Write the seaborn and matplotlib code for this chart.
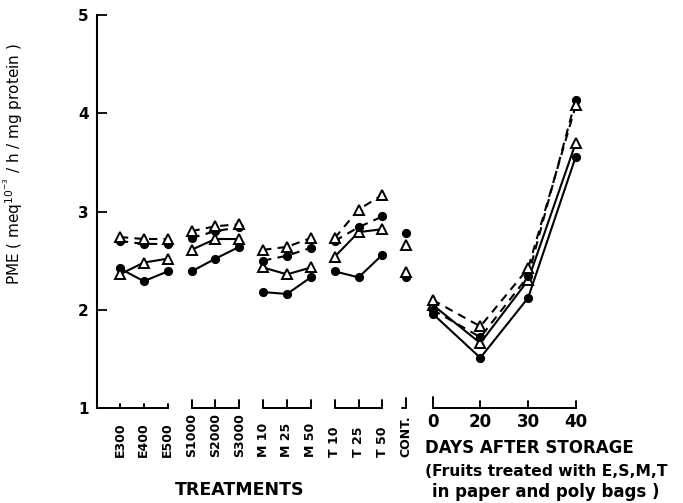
import numpy as np
import pandas as pd
import matplotlib
matplotlib.use("Agg")
import matplotlib.pyplot as plt
import seaborn as sns

# Treatment categories and their groups
treatments = ["E300", "E400", "E500", "S1000", "S2000", "S3000",
              "M 10", "M 25", "M 50", "T 10", "T 25", "T 50", "CONT."]
groups = ["E", "E", "E", "S", "S", "S", "M", "M", "M", "T", "T", "T", "C"]
days = [0, 20, 30, 40]

# PME activity per treatment (4 series)
solid_circle_t = [2.42, 2.29, 2.39, 2.39, 2.52, 2.64, 2.18, 2.16, 2.33, 2.39, 2.33, 2.56, 2.33]
solid_tri_t    = [2.36, 2.48, 2.52, 2.61, 2.72, 2.72, 2.43, 2.36, 2.43, 2.54, 2.79, 2.82, 2.38]
dash_circle_t  = [2.70, 2.67, 2.67, 2.73, 2.80, 2.84, 2.50, 2.55, 2.63, 2.70, 2.84, 2.95, 2.78]
dash_tri_t     = [2.74, 2.72, 2.72, 2.80, 2.85, 2.87, 2.61, 2.64, 2.73, 2.73, 3.02, 3.17, 2.66]

# PME activity during storage
solid_circle_d = [1.96, 1.51, 2.12, 3.56]
solid_tri_d    = [2.05, 1.66, 2.30, 3.70]
dash_circle_d  = [2.00, 1.72, 2.34, 4.14]
dash_tri_d     = [2.10, 1.83, 2.42, 4.08]

yticks = [1, 2, 3, 4, 5]

sns.set_style("ticks")
plt.rcParams["font.family"] = ["DejaVu Sans"]
for key in ["text.color", "axes.labelcolor", "xtick.color", "ytick.color", "axes.edgecolor"]:
    plt.rcParams[key] = "black"

fig = plt.figure(figsize=(6.83, 5.03), dpi=100)
ax = fig.add_axes([0.142, 0.189, 0.736, 0.781])

treat_x = np.arange(len(treatments), dtype=float)
day_x = 13.1 + 2.0 * np.arange(len(days))

series = [
    ("solid_circle", solid_circle_t, solid_circle_d, "-", "o", "black", 5.2),
    ("solid_tri", solid_tri_t, solid_tri_d, "-", "^", "white", 7.0),
    ("dash_circle", dash_circle_t, dash_circle_d, (0, (4, 3)), "o", "black", 5.2),
    ("dash_tri", dash_tri_t, dash_tri_d, (0, (4, 3)), "^", "white", 7.0),
]

for name, tvals, dvals, ls, mk, fc, ms in series:
    df = pd.DataFrame({
        "x": np.concatenate([treat_x, day_x]),
        "pme": tvals + dvals,
        "seg": groups + ["D"] * len(days),
    })
    sns.lineplot(data=df, x="x", y="pme", units="seg", estimator=None,
                 color="black", linestyle=ls, linewidth=1.5,
                 marker=mk, markersize=ms, markerfacecolor=fc,
                 markeredgecolor="black", markeredgewidth=1.4,
                 ax=ax, legend=False, sort=False)

ax.set_xlim(-0.96, 20.1)
ax.set_ylim(1, 5)
ax.set_yticks(yticks)
ax.set_yticklabels([str(v) for v in yticks], fontsize=11, fontweight="bold")
ax.tick_params(axis="y", direction="in", length=7, width=1.3, pad=6)
for s in ["top", "right", "bottom"]:
    ax.spines[s].set_visible(False)
ax.spines["left"].set_linewidth(1.5)

# Bracket-style baseline under each group
kw = dict(color="black", linewidth=1.4, clip_on=False)
e_idx = [i for i, g in enumerate(groups) if g == "E"]
ax.plot([-0.96, treat_x[e_idx[-1]]], [1, 1], **kw)
for i in e_idx:
    ax.plot([treat_x[i], treat_x[i]], [1, 1.04], **kw)
for g in ["S", "M", "T"]:
    idx = [i for i, gg in enumerate(groups) if gg == g]
    ax.plot([treat_x[idx[0]], treat_x[idx[-1]]], [1, 1], **kw)
    for i in idx:
        ax.plot([treat_x[i], treat_x[i]], [1, 1.08], **kw)
c = groups.index("C")
ax.plot([treat_x[c], treat_x[c]], [1.0, 1.1], **kw)
ax.plot([treat_x[c] - 0.2, treat_x[c]], [1.0, 1.0], **kw)
ax.plot([day_x[0], day_x[-1]], [1, 1], **kw)
for k, x in enumerate(day_x):
    ax.plot([x, x], [1.0, 1.11 if k == 0 else 1.07], **kw)

ax.set_xticks([])
ax.set_xlabel("")
tr = ax.get_xaxis_transform()
for x, lab in zip(treat_x, treatments):
    ax.text(x, -0.125, lab, transform=tr, rotation=90, ha="center", va="bottom",
            fontsize=9, fontweight="bold")

ax.set_ylabel(r"PME ( meq$^{10^{-3}}$ / h / mg protein )", fontsize=11)
ax.yaxis.set_label_coords(-0.143, 0.62)

for x, d in zip(day_x, days):
    ax.text(x, -0.012, str(d), transform=tr, ha="center", va="top",
            fontsize=12, fontweight="bold")

fig.text(0.351, 0.016, "TREATMENTS", ha="center", va="baseline",
         fontsize=12.5, fontweight="bold")
fig.text(0.622, 0.099, "DAYS AFTER STORAGE", ha="left", va="baseline",
         fontsize=12, fontweight="bold")
fig.text(0.622, 0.054, "(Fruits treated with E,S,M,T", ha="left", va="baseline",
         fontsize=11.2, fontweight="bold")
fig.text(0.632, 0.012, "in paper and poly bags )", ha="left", va="baseline",
         fontsize=12, fontweight="bold")

fig.savefig("out.png", dpi=100)
